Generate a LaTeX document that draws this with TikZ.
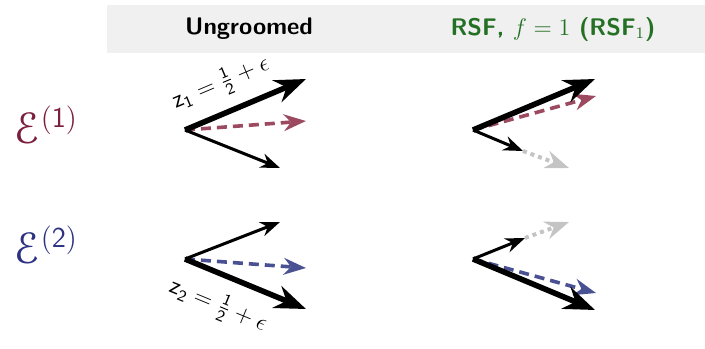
\documentclass[tikz,border=0pt]{standalone}
\usepackage{amsmath,amssymb}
\usepackage[mathcal]{eucal}
\usepackage{tikz}
\usetikzlibrary{calc,arrows.meta,positioning}
\usepackage{xcolor}
\definecolor{bandgray}{HTML}{F0F0F0}
\definecolor{rsfgreen}{RGB}{36,112,36}
\definecolor{eonered}{HTML}{7A1F3D}
\definecolor{etwoblue}{HTML}{2C3182}
\definecolor{dashred}{HTML}{9C4A60}
\definecolor{dashblue}{HTML}{4A5193}
\definecolor{dropgray}{HTML}{C4C4C4}

\begin{document}
\begin{tikzpicture}[x=0.5pt,y=-0.5pt,>=Stealth,
  hard/.style={line width=2.8pt,->},
  soft/.style={line width=1.5pt,->},
  sumred/.style={draw=dashred,line width=1.8pt,dash pattern=on 5pt off 3pt,->},
  sumblue/.style={draw=dashblue,line width=1.8pt,dash pattern=on 5pt off 3pt,->},
  dropped/.style={draw=dropgray,line width=2pt,dash pattern=on 2pt off 2pt,->},
  head/.style={font=\fontsize{12}{14}\selectfont\sffamily\bfseries},
  zlabel/.style={font=\fontsize{12}{14}\selectfont,sloped,inner sep=1pt}]
\useasboundingbox (0,0) rectangle (705,348);
\fill[bandgray] (107,5) rectangle (705,53);
\node[head] (hung) at (249,29) {Ungroomed};
\node[head,text=rsfgreen] (hrsf) at (553,29) {RSF, $f=1$ (RSF$_1$)};

\node[anchor=base west,text=eonered,font=\fontsize{22}{24}\selectfont] (eone) at (7,143) {$\mathcal{E}^{\mathsf{(1)}}$};
\node[anchor=base west,text=etwoblue,font=\fontsize{22}{24}\selectfont] (etwo) at (7,263) {$\mathcal{E}^{\mathsf{(2)}}$};

\coordinate (o1) at (185,130);
\coordinate (a1) at (306,79);
\coordinate (s1) at (306,121);
\coordinate (b1) at (280,168);
\draw[sumred] (o1) -- (s1);
\draw[hard] (o1) -- (a1) node[zlabel,pos=0.39,above=5pt] {$\mathsf{z}_{\mathsf{1}}=\frac{\mathsf{1}}{\mathsf{2}}+\epsilon$};
\draw[soft] (o1) -- (b1);

\coordinate (o2) at (185,259);
\coordinate (a2) at (280,222);
\coordinate (s2) at (306,268);
\coordinate (b2) at (306,309);
\draw[sumblue] (o2) -- (s2);
\draw[soft] (o2) -- (a2);
\draw[hard] (o2) -- (b2) node[zlabel,pos=0.37,below=6pt] {$\mathsf{z}_{\mathsf{2}}=\frac{\mathsf{1}}{\mathsf{2}}+\epsilon$};

\coordinate (p1) at (473,130);
\coordinate (c1) at (595,79);
\coordinate (r1) at (596,96);
\coordinate (d1) at (523,151);
\coordinate (g1) at (569,168);
\draw[dropped] (d1) -- (g1);
\draw[sumred] (p1) -- (r1);
\draw[hard] (p1) -- (c1);
\draw[soft] (p1) -- (d1);

\coordinate (p2) at (473,259);
\coordinate (d2) at (525,238);
\coordinate (g2) at (569,222);
\coordinate (r2) at (596,293);
\coordinate (c2) at (595,310);
\draw[dropped] (d2) -- (g2);
\draw[sumblue] (p2) -- (r2);
\draw[hard] (p2) -- (c2);
\draw[soft] (p2) -- (d2);
\end{tikzpicture}
\end{document}
